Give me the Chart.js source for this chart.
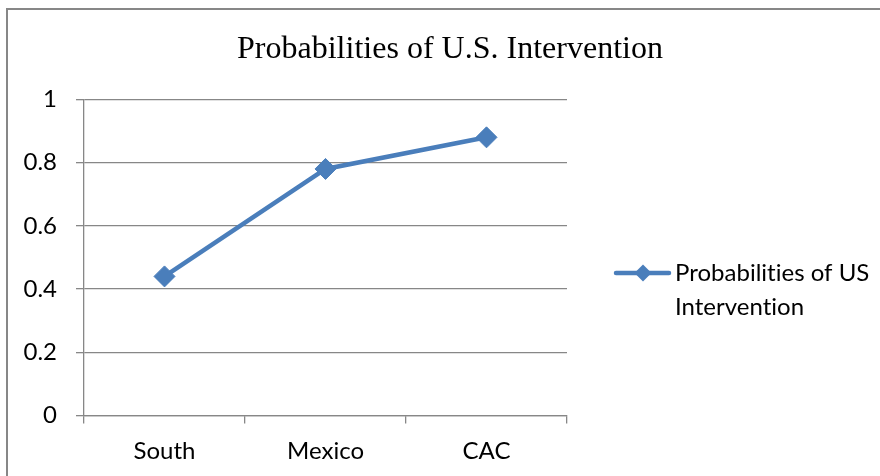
<!DOCTYPE html>
<html><head><meta charset="utf-8">
<script src="https://cdn.jsdelivr.net/npm/chart.js@4"></script>
<style>
html,body{margin:0;padding:0;background:#fff;overflow:hidden;}
#wrap{position:relative;width:880px;height:476px;overflow:hidden;}
#frame{position:absolute;left:6px;top:8px;width:900px;height:500px;border-left:2px solid #878787;border-top:2px solid #878787;pointer-events:none;}
canvas{position:absolute;left:0;top:0;}
</style></head><body>
<div id="wrap"><canvas id="c" width="880" height="476" style="width:880px;height:476px"></canvas><div id="frame"></div></div>
<script>
const TITLE = 'Probabilities of U.S. Intervention';
const CATEGORIES = ['South', 'Mexico', 'CAC'];
const SERIES_LABEL = 'Probabilities of US Intervention';
const LEGEND_LINES = ['Probabilities of US', 'Intervention'];
const VALUES = [0.44, 0.78, 0.88];
const Y_MIN = 0, Y_MAX = 1, Y_STEP = 0.2;

const LINE_COLOR = '#4A7EBB';
const GRID_COLOR = '#878787';
const SANS = 'Lato';

const noLigatures = {
  id: 'noLigatures',
  beforeDraw(chart) { chart.ctx.letterSpacing = '0.01px'; }
};

const sideLegend = {
  id: 'sideLegend',
  beforeInit(chart) {
    const box = {
      position: 'right', weight: 100, fullSize: false, options: {},
      top: 0, left: 0, right: 0, bottom: 0, width: 0, height: 0,
      isHorizontal() { return false; },
      update(maxWidth, maxHeight) { this.width = 313; this.height = maxHeight; },
      draw() {
        const ctx = chart.ctx;
        const x0 = this.left;
        const y1 = 273, y2 = 307;
        ctx.save();
        ctx.letterSpacing = '0.01px';
        ctx.strokeStyle = LINE_COLOR;
        ctx.lineWidth = 4.5;
        ctx.lineCap = 'round';
        ctx.beginPath();
        ctx.moveTo(x0 + 49, y1);
        ctx.lineTo(x0 + 102, y1);
        ctx.stroke();
        ctx.fillStyle = LINE_COLOR;
        const cx = x0 + 76, r = 8.5;
        ctx.beginPath();
        ctx.moveTo(cx - r, y1); ctx.lineTo(cx, y1 - r); ctx.lineTo(cx + r, y1); ctx.lineTo(cx, y1 + r);
        ctx.closePath(); ctx.fill();
        ctx.fillStyle = '#000';
        ctx.font = '24px ' + SANS;
        ctx.textBaseline = 'middle';
        ctx.textAlign = 'left';
        ctx.fillText(LEGEND_LINES[0], x0 + 108, y1);
        ctx.fillText(LEGEND_LINES[1], x0 + 108, y2);
        ctx.restore();
      }
    };
    Chart.layouts.addBox(chart, box);
  }
};

new Chart(document.getElementById('c'), {
  type: 'line',
  data: {
    labels: CATEGORIES,
    datasets: [{
      label: SERIES_LABEL,
      data: VALUES,
      borderColor: LINE_COLOR,
      backgroundColor: LINE_COLOR,
      borderWidth: 4.5,
      pointStyle: 'rectRot',
      pointRadius: 10.5,
      pointBorderWidth: 1,
      pointBackgroundColor: LINE_COLOR,
      pointBorderColor: LINE_COLOR,
      tension: 0,
      fill: false
    }]
  },
  options: {
    responsive: false,
    devicePixelRatio: 1,
    animation: false,
    layout: { padding: { left: 20, right: 0, top: 0, bottom: 0 } },
    plugins: {
      legend: { display: false },
      tooltip: { enabled: false },
      title: {
        display: true,
        text: TITLE,
        color: '#000',
        font: { family: 'Liberation Serif', size: 32, weight: 'normal', lineHeight: 1.2 },
        padding: { top: 30, bottom: 31 }
      }
    },
    scales: {
      x: {
        offset: true,
        afterFit(scale) { scale.height = 60.5; },
        grid: { display: true, drawOnChartArea: false, drawTicks: true, tickLength: 8, offset: true, color: GRID_COLOR, lineWidth: 1.3 },
        border: { display: true, color: GRID_COLOR, width: 1.3 },
        ticks: { color: '#000', font: { family: SANS, size: 24 }, padding: 13, maxRotation: 0 }
      },
      y: {
        min: Y_MIN, max: Y_MAX,
        afterFit(scale) { scale.width = 64; },
        grid: { color: GRID_COLOR, lineWidth: 1.3, tickLength: 8, drawTicks: true },
        border: { display: true, color: GRID_COLOR, width: 1.3 },
        ticks: {
          stepSize: Y_STEP, color: '#000', font: { family: SANS, size: 24 }, padding: 19,
          callback: v => String(Math.round(v * 10) / 10)
        }
      }
    }
  },
  plugins: [noLigatures, sideLegend]
});
</script>
</body></html>
